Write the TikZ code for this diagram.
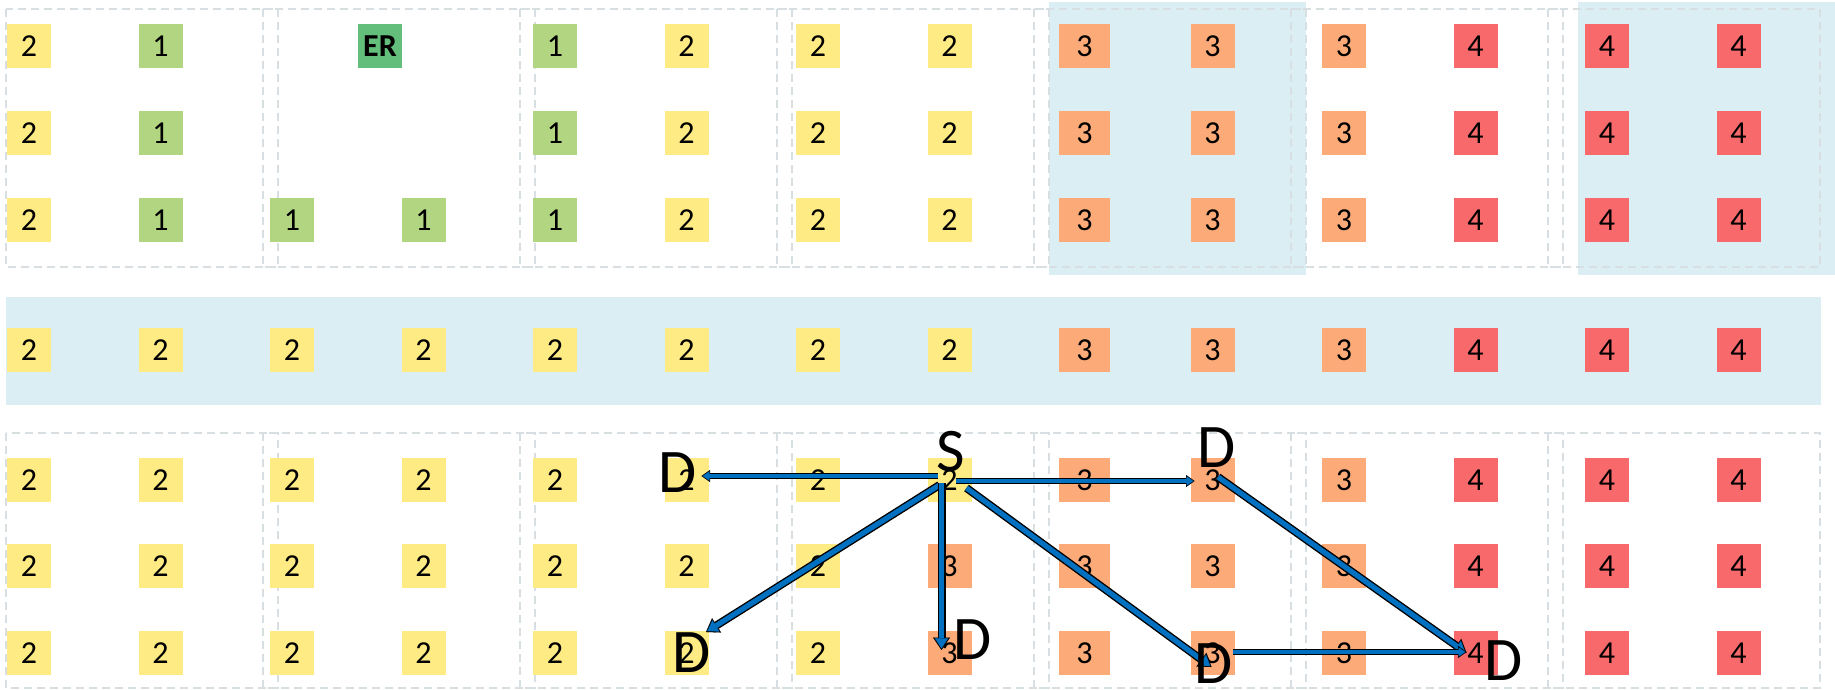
\documentclass[tikz,border=0pt]{standalone}
\usepackage{fontspec}
\setmainfont{Carlito}
\usepackage{tikz}
\usetikzlibrary{arrows.meta, positioning, calc}
\definecolor{scgreen}{HTML}{63BE7B}
\definecolor{sclime}{HTML}{B1D580}
\definecolor{scyellow}{HTML}{FFEB84}
\definecolor{scorange}{HTML}{FCAA78}
\definecolor{scred}{HTML}{F8696B}
\definecolor{paleblue}{HTML}{DAEEF3}
\definecolor{gridline}{HTML}{D8DFE2}
\definecolor{flowblue}{HTML}{0070C0}
\tikzset{
    cell/.style={rectangle, minimum width=44pt, minimum height=44pt, inner sep=0pt, font=\fontsize{32}{32}\selectfont},
    lvl1/.style={cell, fill=sclime},
    lvl2/.style={cell, fill=scyellow},
    lvl3/.style={cell, fill=scorange},
    lvl4/.style={cell, fill=scred},
    group/.style={draw=gridline, line width=1.3pt, dash pattern=on 8pt off 5pt},
    tag/.style={inner sep=0pt, font=\fontsize{62}{62}\selectfont},
    flow/.style={draw=flowblue, line width=5.2pt, shorten >=1.6pt, -{Triangle[length=10pt, width=13pt, line width=0.1pt]},
        preaction={draw=black, line width=8pt, shorten >=0pt, -{Triangle[length=12.5pt, width=17pt, line width=0.1pt]}}},
    flowthin/.style={draw=flowblue, line width=3.2pt, shorten >=1.3pt, -{Triangle[length=6.5pt, width=9pt, line width=0.1pt]},
        preaction={draw=black, line width=5.6pt, shorten >=0pt, -{Triangle[length=8.5pt, width=12pt, line width=0.1pt]}}}
}

\begin{document}
\begin{tikzpicture}[x=1pt, y=-1pt]
    \useasboundingbox (0,0) rectangle (1835,690);

    % shaded groups
    \fill[paleblue] (1049,2) rectangle (1306,275);
    \fill[paleblue] (1578,2) rectangle (1835,275);
    \fill[paleblue] (6,297) rectangle (1821,405);

    \foreach \k in {0,...,6} {
        \draw[group] ({6+257*\k},9) rectangle ({278+257*\k},267);
        \draw[group] ({6+257*\k},433) rectangle ({278+257*\k},688);
    }

    % top block
    \foreach \r/\yy in {1/46, 2/133, 3/220}
        \foreach \c/\v in {0/2,1/1,4/1,5/2,6/2,7/2,8/3,9/3,10/3,11/4,12/4,13/4}
            \node[lvl\v, minimum width={44pt+7pt*(\c==8)}] (t\r-\c) at ({29+131.5*\c+3.5*(\c==8)},\yy) {\v};
    \foreach \c in {2,3}
        \node[lvl1] (t3-\c) at ({29+131.5*\c},220) {1};
    \node[cell, fill=scgreen, font=\fontsize{32}{32}\selectfont\bfseries] (er) at (380,46) {ER};

    % middle band
    \foreach \c in {0,...,13} {
        \pgfmathtruncatemacro\v{\c<8 ? 2 : (\c<11 ? 3 : 4)}
        \node[lvl\v, minimum width={44pt+7pt*(\c==8)}] (m-\c) at ({29+131.5*\c+3.5*(\c==8)},350) {\v};
    }

    % bottom block
    \foreach \r/\yy/\cut in {1/480/8, 2/566/7, 3/653/7}
        \foreach \c in {0,...,13} {
            \pgfmathtruncatemacro\v{\c<\cut ? 2 : (\c<11 ? 3 : 4)}
            \node[lvl\v, minimum width={44pt+7pt*(\c==8)}] (b\r-\c) at ({29+131.5*\c+3.5*(\c==8)},\yy) {\v};
        }

    \draw[flowthin] ($(b1-7)+(-12,-4)$) -- ($(b1-5)+(15,-4)$);
    \draw[flowthin] ($(b1-7)+(6,1)$) -- ($(b1-9)+(-18,1)$);
    \draw[flow] ($(b1-7)+(-10,5)$) -- ($(b3-5)+(19.5,-21)$);
    \draw[flow] ($(b1-7)+(-8,3)$) -- ($(b3-7)+(-8,-3)$);
    \draw[flow] ($(b1-7)+(17,8)$) -- ($(b3-9)+(-1,14)$);
    \draw[flow] ($(b1-9)+(5.5,-3)$) -- ($(b3-11)+(-9,0)$);
    \draw[flowthin] ($(b3-9)+(20.5,-1)$) -- ($(b3-11)+(-9,-1)$);

    \node[tag] (src) at ($(b1-7)+(1.5,-28.5)$) {S};
    \node[tag] (dstW) at ($(b1-5)+(-8.5,-7)$) {D};
    \node[tag] (dstNE) at ($(b1-9)+(4.5,-32)$) {D};
    \node[tag] (dstSW) at ($(b3-5)+(5.5,0)$) {D};
    \node[tag] (dstS) at ($(b3-7)+(23,-13)$) {D};
    \node[tag] (dstSE) at ($(b3-9)+(1,11)$) {D};
    \node[tag] (dstE) at ($(b3-11)+(28.5,8)$) {D};
\end{tikzpicture}
\end{document}
